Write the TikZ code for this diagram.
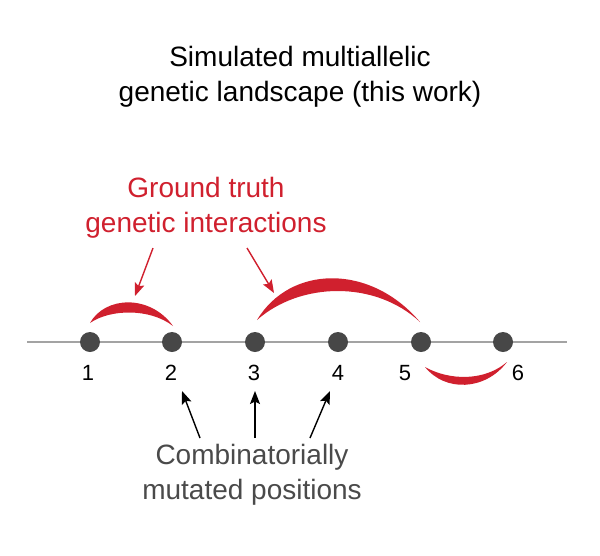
\documentclass[tikz,border=0pt]{standalone}
\usepackage{fontspec}
\setmainfont{Liberation Sans}
\usetikzlibrary{arrows.meta}
\definecolor{gtred}{HTML}{D0202E}
\definecolor{dotgray}{HTML}{474747}
\definecolor{linegray}{HTML}{A3A3A3}
\definecolor{txtgray}{HTML}{4A4A4A}
\begin{document}
\begin{tikzpicture}[
        x=1pt, y=-1pt,
        site/.style={circle, fill=dotgray, minimum size=20pt, inner sep=0pt},
        num/.style={font=\fontsize{22}{26}\selectfont, text=black},
        title/.style={align=center, font=\fontsize{28}{35}\selectfont},
        crescent/.style={fill=gtred, draw=none},
        redarr/.style={draw=gtred, line width=1.4pt, -{Stealth[length=13pt, width=10pt, inset=2.5pt]}},
        blkarr/.style={draw=black, line width=1.4pt, -{Stealth[length=13pt, width=10pt, inset=2.5pt]}}
    ]
        \useasboundingbox (0,0) rectangle (600,555);

        % Title
        \node[title] (head) at (300,77) {Simulated multiallelic\\genetic landscape (this work)};

        % Sequence axis
        \coordinate (axL) at (27,342);
        \coordinate (axR) at (567,342);
        \draw[linegray, line width=1.8pt] (axL) -- (axR);

        % Positions
        \node[site] (p1) at (90,342) {};
        \node[site] (p2) at (172,342) {};
        \node[site] (p3) at (255,342) {};
        \node[site] (p4) at (338,342) {};
        \node[site] (p5) at (421,342) {};
        \node[site] (p6) at (503,342) {};

        \node[num] (n1) at (88,373) {1};
        \node[num] (n2) at (171,373) {2};
        \node[num] (n3) at (254,373) {3};
        \node[num] (n4) at (338,373) {4};
        \node[num] (n5) at (405,373) {5};
        \node[num] (n6) at (518,373) {6};

        % Interactions
        \path[crescent] (90,323) .. controls (105,296) and (150,294) .. (173,326)
            .. controls (150,308) and (110,309) .. cycle;
        \path[crescent] (257,320) .. controls (290,265) and (370,263) .. (420,322)
            .. controls (375,280) and (300,282) .. cycle;
        \path[crescent] (425,367) .. controls (445,392) and (485,391) .. (507,362)
            .. controls (485,381) and (450,381) .. cycle;

        % Red labels
        \node[title, text=gtred] (gt) at (206,208) {Ground truth\\genetic interactions};
        \coordinate (gtA) at (153,248);
        \coordinate (gtB) at (247,248);
        \coordinate (arcA) at (135,296);
        \coordinate (arcB) at (274,293);
        \draw[redarr] (gtA) -- (arcA);
        \draw[redarr] (gtB) -- (arcB);

        % Mutated positions
        \node[title, text=txtgray] (mut) at (252,475) {Combinatorially\\mutated positions};
        \coordinate (mA) at (200,438);
        \coordinate (mB) at (255,438);
        \coordinate (mC) at (310,438);
        \coordinate (tA) at (182,391);
        \coordinate (tB) at (255,391);
        \coordinate (tC) at (330,391);
        \draw[blkarr] (mA) -- (tA);
        \draw[blkarr] (mB) -- (tB);
        \draw[blkarr] (mC) -- (tC);
    \end{tikzpicture}
\end{document}
